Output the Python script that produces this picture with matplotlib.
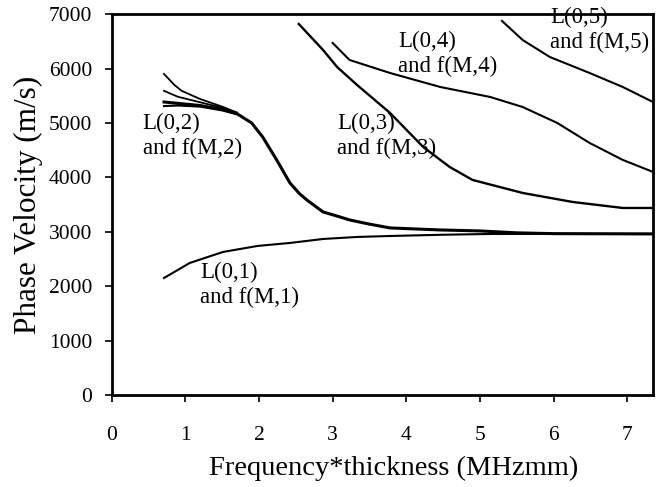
import matplotlib
matplotlib.use("Agg")
import matplotlib.pyplot as plt

# dispersion curves (x = f*d in MHz mm, y = phase velocity m/s)
l01_x = [0.71, 1.06, 1.51, 1.98, 2.42, 2.87, 3.33, 3.78, 4.5, 5.14, 6.0, 7.35]
l01_y = [2150, 2426, 2628, 2739, 2794, 2867, 2904, 2922, 2945, 2959, 2960, 2960]

l02_x = [0.71, 0.9, 1.2, 1.5, 1.7, 1.9, 2.05, 2.15, 2.24, 2.42, 2.55, 2.65, 2.87,
         3.1, 3.23, 3.5, 3.78, 4.46, 5.0, 5.5, 6.0, 7.35]
l02_y = [5385, 5360, 5320, 5250, 5170, 5000, 4742, 4520, 4320, 3897, 3700, 3584,
         3364, 3272, 3217, 3140, 3070, 3033, 3015, 2980, 2965, 2960]
l02a_x = [0.71, 0.85, 0.95, 1.2, 1.5, 1.7]
l02a_y = [5900, 5700, 5590, 5440, 5300, 5190]
l02b_x = [0.71, 0.9, 1.2, 1.5, 1.7]
l02b_y = [5590, 5480, 5380, 5280, 5190]
l02c_x = [0.71, 0.9, 1.2, 1.5, 1.7]
l02c_y = [5310, 5320, 5300, 5230, 5160]

l03_x = [2.54, 2.87, 3.06, 3.33, 3.78, 4.23, 4.59, 4.90, 5.58, 6.26, 6.94, 7.35]
l03_y = [6819, 6341, 6029, 5700, 5183, 4558, 4190, 3952, 3713, 3547, 3437, 3437]

l04_x = [3.0, 3.23, 3.78, 4.46, 5.14, 5.58, 6.05, 6.49, 6.94, 7.35]
l04_y = [6470, 6157, 5918, 5661, 5477, 5293, 5000, 4632, 4320, 4100]

l05_x = [5.30, 5.58, 5.95, 6.49, 6.94, 7.35]
l05_y = [6875, 6525, 6212, 5918, 5661, 5385]

labels = ["L(0,1)\nand f(M,1)", "L(0,2)\nand f(M,2)", "L(0,3)\nand f(M,3)",
          "L(0,4)\nand f(M,4)", "L(0,5)\nand f(M,5)"]
label_xy = [(1.2, 2450), (0.42, 5180), (3.06, 5180), (3.89, 6700), (5.95, 7130)]

plt.rcParams["font.family"] = ["Liberation Serif", "DejaVu Serif"]

fig = plt.figure(figsize=(6.69, 4.87), dpi=100)
ax = fig.add_axes([0.167, 0.189, 0.809, 0.782])

ax.plot(l01_x, l01_y, "k-", lw=1.5)
ax.plot(l02_x, l02_y, "k-", lw=2.2)
ax.plot(l02a_x, l02a_y, "k-", lw=1.3)
ax.plot(l02b_x, l02b_y, "k-", lw=1.3)
ax.plot(l02c_x, l02c_y, "k-", lw=1.5)
ax.plot(l03_x, l03_y, "k-", lw=1.7)
ax.plot(l04_x, l04_y, "k-", lw=1.5)
ax.plot(l05_x, l05_y, "k-", lw=1.5)

for t, (x, y) in zip(labels, label_xy):
    ax.text(x, y, t, ha="left", va="top", fontsize=16.5, linespacing=1.25)

ax.set_xlim(0, 7.35)
ax.set_ylim(0, 7000)
ax.set_xticks(range(0, 8))
ax.set_yticks(range(0, 7001, 1000))
ax.tick_params(labelsize=15.5, direction="out", length=5, width=1.2)
ax.tick_params(axis="x", pad=17)
ax.tick_params(axis="y", pad=9)
for s in ax.spines.values():
    s.set_linewidth(2)
ax.set_xlabel("Frequency*thickness (MHzmm)", fontsize=20.5)
ax.xaxis.set_label_coords(0.52, -0.16)
ax.set_ylabel("Phase Velocity (m/s)", fontsize=22.5, labelpad=4)

fig.savefig("out.png", dpi=100)
